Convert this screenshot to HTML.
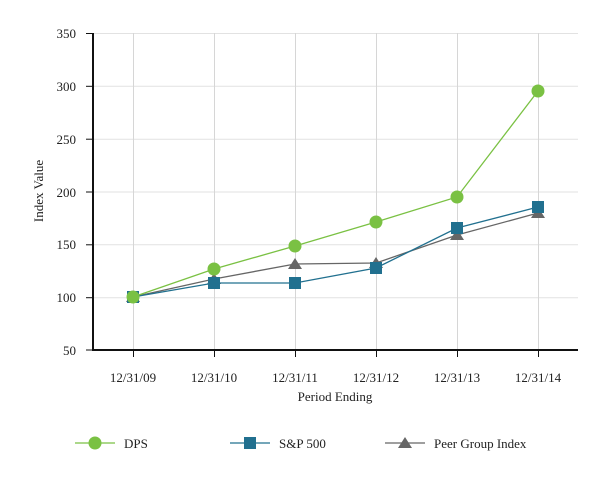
<!DOCTYPE html>
<html><head><style>body{margin:0;background:#fff}svg{display:block}text{font-family:"Liberation Serif",serif;fill:#222;font-size:13px}</style></head><body>
<svg width="613" height="480" xmlns="http://www.w3.org/2000/svg">
<g stroke="#e2e2e2" stroke-width="1">
<line x1="93" y1="33.5" x2="578" y2="33.5"/><line x1="93" y1="86.3" x2="578" y2="86.3"/><line x1="93" y1="139.2" x2="578" y2="139.2"/><line x1="93" y1="192" x2="578" y2="192"/><line x1="93" y1="244.8" x2="578" y2="244.8"/><line x1="93" y1="297.7" x2="578" y2="297.7"/>
</g>
<g stroke="#d6d6d6"><line x1="133.5" y1="33" x2="133.5" y2="350"/><line x1="214.5" y1="33" x2="214.5" y2="350"/><line x1="295.5" y1="33" x2="295.5" y2="350"/><line x1="376.5" y1="33" x2="376.5" y2="350"/><line x1="457.5" y1="33" x2="457.5" y2="350"/><line x1="538.5" y1="33" x2="538.5" y2="350"/></g>
<g stroke="#111" stroke-width="2" fill="none"><line x1="93" y1="33" x2="93" y2="351"/><line x1="92" y1="350" x2="578" y2="350"/></g>
<g stroke="#111"><line x1="86" y1="33.5" x2="93" y2="33.5"/><line x1="86" y1="86.3" x2="93" y2="86.3"/><line x1="86" y1="139.2" x2="93" y2="139.2"/><line x1="86" y1="192" x2="93" y2="192"/><line x1="86" y1="244.8" x2="93" y2="244.8"/><line x1="86" y1="297.7" x2="93" y2="297.7"/><line x1="86" y1="350" x2="93" y2="350"/>
<line x1="133.5" y1="350" x2="133.5" y2="357"/><line x1="214.5" y1="350" x2="214.5" y2="357"/><line x1="295.5" y1="350" x2="295.5" y2="357"/><line x1="376.5" y1="350" x2="376.5" y2="357"/><line x1="457.5" y1="350" x2="457.5" y2="357"/><line x1="538.5" y1="350" x2="538.5" y2="357"/></g>
<g text-anchor="end"><text x="76" y="38">350</text><text x="76" y="91">300</text><text x="76" y="144">250</text><text x="76" y="197">200</text><text x="76" y="249">150</text><text x="76" y="302">100</text><text x="76" y="355">50</text></g>
<g text-anchor="middle"><text x="133" y="382">12/31/09</text><text x="214" y="382">12/31/10</text><text x="295" y="382">12/31/11</text><text x="376" y="382">12/31/12</text><text x="457" y="382">12/31/13</text><text x="538" y="382">12/31/14</text>
<text x="335" y="401">Period Ending</text>
<text transform="translate(43,191) rotate(-90)">Index Value</text></g>
<polyline fill="none" stroke="#666" stroke-width="1.3" points="133,297 214,279 295,264 376,263 457,235 538,213"/>
<g fill="#666"><path d="M133,291 l7,11 h-14z"/><path d="M214,273 l7,11 h-14z"/><path d="M295,258 l7,11 h-14z"/><path d="M376,257 l7,11 h-14z"/><path d="M457,229 l7,11 h-14z"/><path d="M538,207 l7,11 h-14z"/></g>
<polyline fill="none" stroke="#21708f" stroke-width="1.3" points="133,297 214,283 295,283 376,268 457,228 538,207"/>
<g fill="#21708f"><rect x="127" y="291" width="12" height="12"/><rect x="208" y="277" width="12" height="12"/><rect x="289" y="277" width="12" height="12"/><rect x="370" y="262" width="12" height="12"/><rect x="451" y="222" width="12" height="12"/><rect x="532" y="201" width="12" height="12"/></g>
<polyline fill="none" stroke="#7ac143" stroke-width="1.3" points="133,297 214,269 295,246 376,222 457,197 538,91"/>
<g fill="#7ac143"><circle cx="133" cy="297" r="6.5"/><circle cx="214" cy="269" r="6.5"/><circle cx="295" cy="246" r="6.5"/><circle cx="376" cy="222" r="6.5"/><circle cx="457" cy="197" r="6.5"/><circle cx="538" cy="91" r="6.5"/></g>
<line x1="75" y1="443" x2="115" y2="443" stroke="#7ac143" stroke-width="1.3"/><circle cx="95" cy="443" r="6.5" fill="#7ac143"/><text x="124" y="448">DPS</text>
<line x1="230" y1="443" x2="270" y2="443" stroke="#21708f" stroke-width="1.3"/><rect x="244" y="437" width="12" height="12" fill="#21708f"/><text x="279" y="448">S&amp;P 500</text>
<line x1="385" y1="443" x2="425" y2="443" stroke="#666" stroke-width="1.3"/><path d="M405,437 l7,11 h-14z" fill="#666"/><text x="434" y="448">Peer Group Index</text>
</svg></body></html>
